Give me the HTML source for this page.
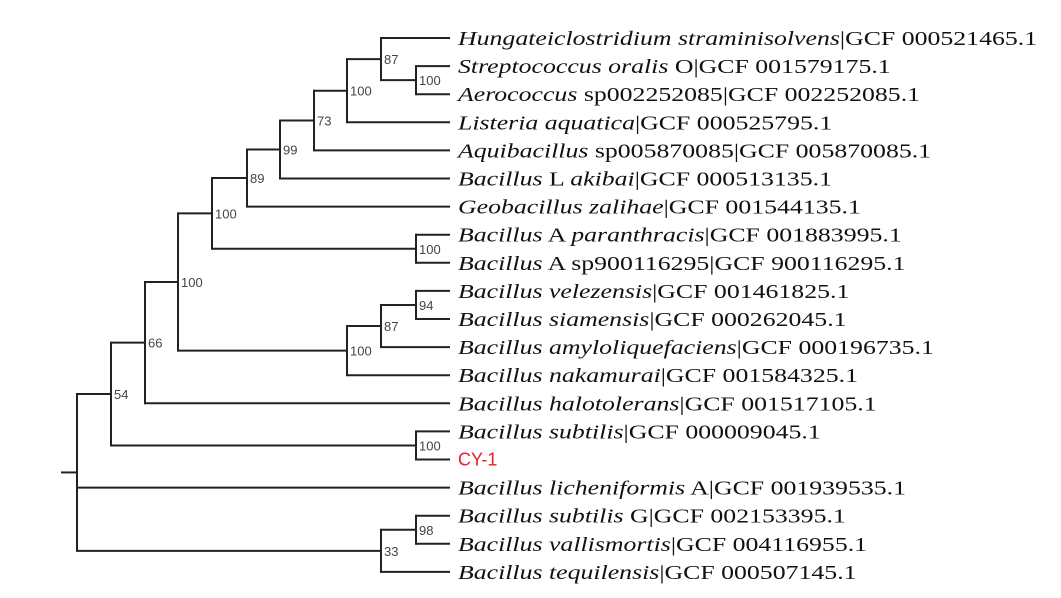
<!DOCTYPE html>
<html><head><meta charset="utf-8">
<style>
html,body{margin:0;padding:0;background:#fff;}
svg{display:block}
.n{font-family:"Liberation Sans",sans-serif;font-size:13px;fill:#444;}
.t{font-family:"Liberation Serif",serif;font-size:20px;fill:#111;}
</style></head><body>
<svg id="s" width="1061" height="598" xmlns="http://www.w3.org/2000/svg"></svg>
<script>
const names=[
["Hungateiclostridium straminisolvens","|GCF 000521465.1"],
["Streptococcus oralis"," O|GCF 001579175.1"],
["Aerococcus"," sp002252085|GCF 002252085.1"],
["Listeria aquatica","|GCF 000525795.1"],
["Aquibacillus"," sp005870085|GCF 005870085.1"],
["Bacillus"," L ","akibai","|GCF 000513135.1"],
["Geobacillus zalihae","|GCF 001544135.1"],
["Bacillus"," A ","paranthracis","|GCF 001883995.1"],
["Bacillus"," A sp900116295|GCF 900116295.1"],
["Bacillus velezensis","|GCF 001461825.1"],
["Bacillus siamensis","|GCF 000262045.1"],
["Bacillus amyloliquefaciens","|GCF 000196735.1"],
["Bacillus nakamurai","|GCF 001584325.1"],
["Bacillus halotolerans","|GCF 001517105.1"],
["Bacillus subtilis","|GCF 000009045.1"],
null,
["Bacillus licheniformis"," A|GCF 001939535.1"],
["Bacillus subtilis"," G|GCF 002153395.1"],
["Bacillus vallismortis","|GCF 004116955.1"],
["Bacillus tequilensis","|GCF 000507145.1"]];
const ly=i=>38+28.1*i;
function nd(x,l,...c){return {x,l,c};}
const A=nd(381,"87",0,nd(416,"100",1,2));
const B=nd(347,"100",A,3),C=nd(314,"73",B,4),D=nd(280,"99",C,5),E=nd(247,"89",D,6);
const F=nd(416,"100",7,8),G=nd(212,"100",E,F);
const H=nd(381,"87",nd(416,"94",9,10),11),I=nd(347,"100",H,12);
const J=nd(178,"100",G,I),K=nd(145,"66",J,13),L=nd(416,"100",14,15),M=nd(111,"54",K,L);
const N=nd(381,"33",nd(416,"98",17,18),19);
const root=nd(77,"",M,16,N);
let out='';
const line=(x1,y1,x2,y2)=>out+=`<line x1="${x1}" y1="${y1}" x2="${x2}" y2="${y2}" stroke="#222" stroke-width="2"/>`;
function draw(n){
 if(typeof n==="number") return {y:ly(n)};
 const ys=n.c.map(c=>{const r=draw(c);const cx=typeof c==="number"?450:c.x;line(n.x,r.y,cx,r.y);return r.y;});
 line(n.x,Math.min(...ys)-1,n.x,Math.max(...ys)+1);
 const y=(ys[0]+ys[ys.length-1])/2;
 if(n.l) out+=`<text class="n" x="${n.x+3}" y="${y+5}">${n.l}</text>`;
 return {y};
}
const r=draw(root);
line(61,r.y,77,r.y);
let g='<g transform="translate(458,0) scale(1.29,1)">';
names.forEach((nm,i)=>{
 const y=ly(i)+6;
 if(!nm){out+=`<text x="458" y="${y}" style="font-family:'Liberation Sans',sans-serif;font-size:18px;fill:#e8202a">CY-1</text>`;return;}
 let s=`<text class="t" x="0" y="${y+1}">`;
 nm.forEach((p,k)=>{s+=`<tspan${k%2==0?' font-style="italic"':''}>${p}</tspan>`;});
 g+=s+'</text>';
});
out+=g+'</g>';
document.getElementById('s').innerHTML=out;
</script>
</body></html>
